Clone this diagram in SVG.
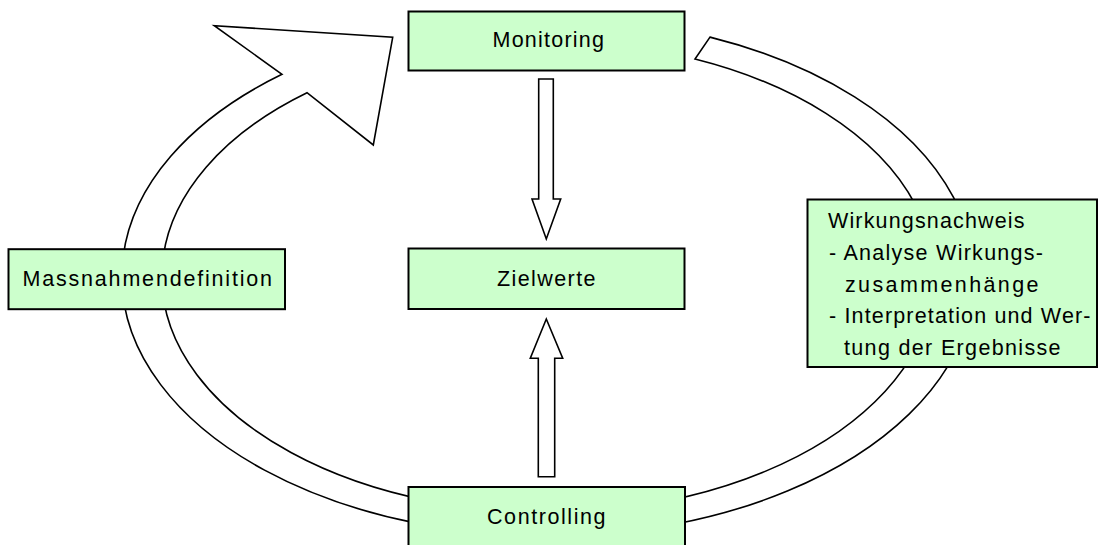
<svg xmlns="http://www.w3.org/2000/svg" width="1098" height="545" viewBox="0 0 1098 545">
  <style>
    .box { fill: #CCFFCC; stroke: #000; stroke-width: 2; }
    .band { fill: #fff; stroke: #000; stroke-width: 1.6; stroke-linejoin: miter; }
    .lbl { font-family: "Liberation Sans", Arial, sans-serif; font-size: 21.5px; fill: #000; }
  </style>
  <rect width="1098" height="545" fill="#fff"/>

  <g id="connectors">
    <!-- cycle band: starts right of Monitoring, runs clockwise, ends in an arrowhead pointing at Monitoring -->
    <path id="cycle" class="band" d="M710,37.1 A426,259.1 0 1 1 282,74.3 L214.3,25.7 L392.7,37.3 L373.3,145 L307,92.7 A386,235.5 0 1 0 695,59 Z"/>
    <!-- Monitoring -> Zielwerte -->
    <path id="arrow-down" class="band" d="M538.7,79 H553.3 V199 H560.7 L546.3,239 L532,199 H538.7 Z"/>
    <!-- Controlling -> Zielwerte -->
    <path id="arrow-up" class="band" d="M546.3,319 L562.7,358.3 H554.7 V476.7 H538.3 V358.3 H530.3 Z"/>
  </g>

  <g id="monitoring">
    <rect class="box" x="408.5" y="11.5" width="276" height="59"/>
    <text class="lbl" x="492.5" y="47.3" textLength="111.5" lengthAdjust="spacing">Monitoring</text>
  </g>

  <g id="zielwerte">
    <rect class="box" x="408.5" y="248.5" width="276" height="60.5"/>
    <text class="lbl" x="497" y="285.7" textLength="98.5" lengthAdjust="spacing">Zielwerte</text>
  </g>

  <g id="massnahmendefinition">
    <rect class="box" x="8.5" y="249.2" width="276.5" height="60"/>
    <text class="lbl" x="22.5" y="285.7" textLength="249.5" lengthAdjust="spacing">Massnahmendefinition</text>
  </g>

  <g id="wirkungsnachweis">
    <rect class="box" x="807.5" y="199.5" width="289.5" height="167.5"/>
    <text class="lbl" x="828" y="227.5" textLength="196.5" lengthAdjust="spacing">Wirkungsnachweis</text>
    <text class="lbl" x="829" y="260" textLength="214" lengthAdjust="spacing">- Analyse Wirkungs-</text>
    <text class="lbl" x="845" y="291.7" textLength="193.5" lengthAdjust="spacing">zusammenhänge</text>
    <text class="lbl" x="829" y="323.3" textLength="261.5" lengthAdjust="spacing">- Interpretation und Wer-</text>
    <text class="lbl" x="844" y="355" textLength="216.5" lengthAdjust="spacing">tung der Ergebnisse</text>
  </g>

  <g id="controlling">
    <rect class="box" x="408.5" y="487" width="276.5" height="62"/>
    <text class="lbl" x="487" y="524.3" textLength="118.5" lengthAdjust="spacing">Controlling</text>
  </g>
</svg>
